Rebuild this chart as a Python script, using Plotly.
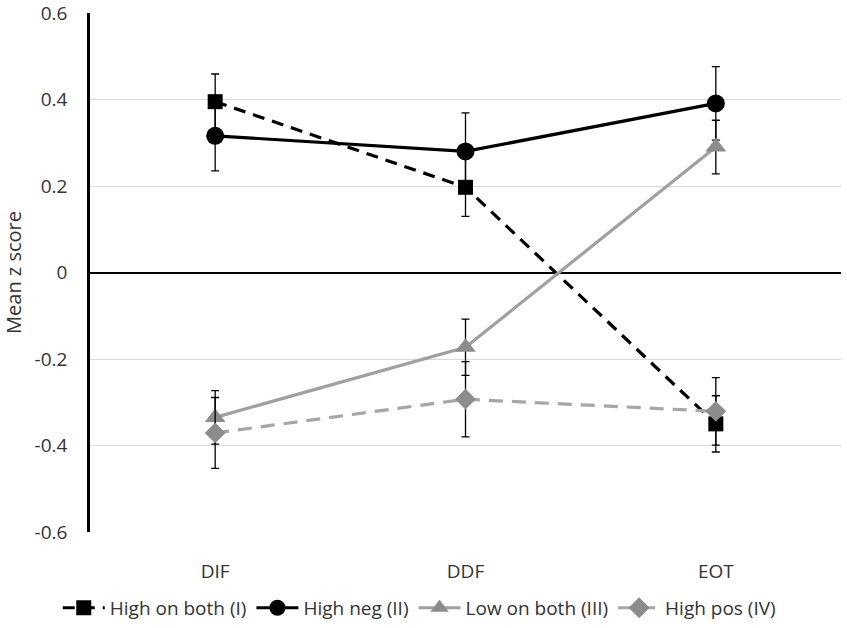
import plotly.graph_objects as go

phases = ["DIF", "DDF", "EOT"]

high_both = [0.395, 0.197, -0.350]
high_both_err = [0.064, 0.067, 0.065]

high_neg = [0.316, 0.280, 0.391]
high_neg_err = [0.081, 0.089, 0.085]

low_both = [-0.335, -0.173, 0.290]
low_both_err = [0.062, 0.065, 0.062]

high_pos = [-0.371, -0.293, -0.321]
high_pos_err = [0.082, 0.087, 0.078]

y_ticks = [-0.6, -0.4, -0.2, 0, 0.2, 0.4, 0.6]
y_labels = ["-0.6", "-0.4", "-0.2", "0", "0.2", "0.4", "0.6"]

series = [
    ("High on both (I)", high_both, high_both_err, "black", "black", "square", 15, "12px,8px"),
    ("High neg (II)", high_neg, high_neg_err, "black", "black", "circle", 18, "solid"),
    ("Low on both (III)", low_both, low_both_err, "#a0a0a0", "#8c8c8c", "triangle-up", 18, "solid"),
    ("High pos (IV)", high_pos, high_pos_err, "#a6a6a6", "#8c8c8c", "diamond", 16, "14px,9px"),
]

fig = go.Figure()
for name, vals, errs, lcol, mcol, sym, size, dash in series:
    fig.add_trace(go.Scatter(
        x=phases, y=vals, name=name, mode="lines+markers",
        line=dict(color=lcol, width=3.2, dash=dash),
        marker=dict(symbol=sym, size=size, color=mcol),
        error_y=dict(type="data", array=errs, visible=True,
                     color="black", thickness=1.3, width=4),
    ))

fig.update_layout(
    width=847, height=628,
    margin=dict(l=90, r=6, t=13, b=96),
    plot_bgcolor="white", paper_bgcolor="white",
    font=dict(family="Open Sans", size=19, color="#333333"),
    legend=dict(orientation="h", xref="container", yref="container",
                x=0.495, xanchor="center", y=0.032, yanchor="middle",
                font=dict(size=19, color="#333333"), itemwidth=42),
    xaxis=dict(range=[-0.5, 2.5], showgrid=False, showline=False, zeroline=False,
               automargin=False,
               ticks="outside", ticklen=22, tickcolor="rgba(0,0,0,0)",
               tickfont=dict(size=19, color="#333333")),
    yaxis=dict(range=[-0.6, 0.6], tickvals=y_ticks, ticktext=y_labels,
               automargin=False, ticklabeloverflow="allow",
               showgrid=True, gridcolor="#d9d9d9", gridwidth=1,
               zeroline=True, zerolinecolor="black", zerolinewidth=2,
               showline=True, linecolor="black", linewidth=2.5,
               ticklabelstandoff=16, tickfont=dict(size=19, color="#333333"),
               title=dict(text="Mean z score", font=dict(size=20, color="#333333"), standoff=18)),
)

# drop the page's default body margin so the figure sits at the window corner
fig.write_html("out.html", config={"displayModeBar": False},
               post_script="document.body.style.margin='0px';")
